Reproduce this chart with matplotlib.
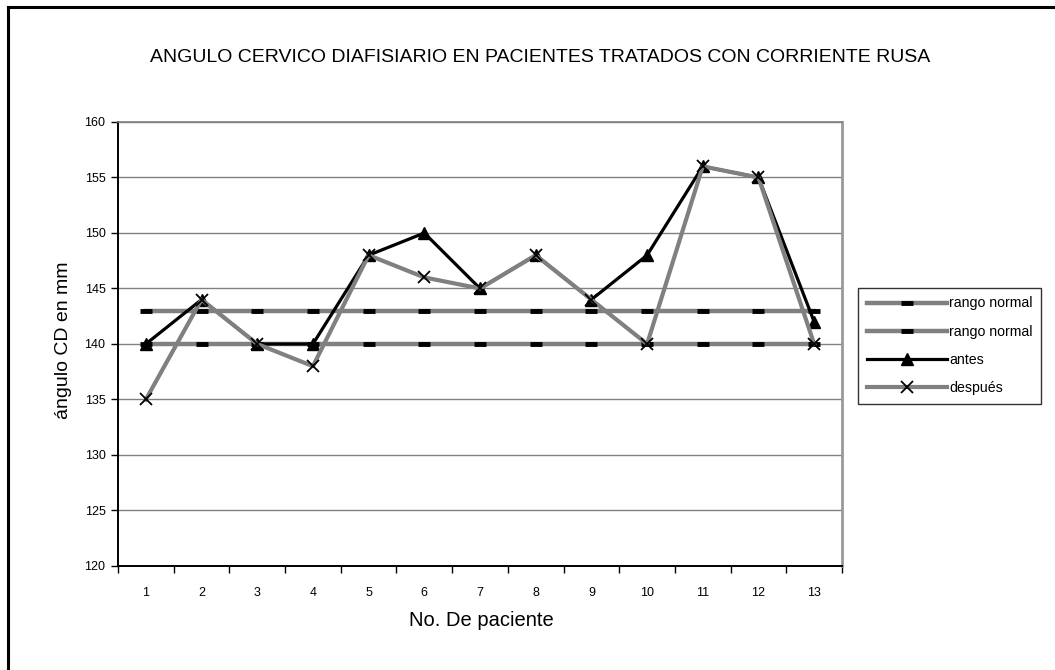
import matplotlib
matplotlib.use("Agg")
import matplotlib.pyplot as plt
from matplotlib.lines import Line2D

plt.rcParams['font.family'] = ['Liberation Sans', 'DejaVu Sans']

# Data
pacientes = [1, 2, 3, 4, 5, 6, 7, 8, 9, 10, 11, 12, 13]
rango_sup = [143] * 13
rango_inf = [140] * 13
antes = [140, 144, 140, 140, 148, 150, 145, 148, 144, 148, 156, 155, 142]
despues = [135, 144, 140, 138, 148, 146, 145, 148, 144, 140, 156, 155, 140]
y_ticks = [120, 125, 130, 135, 140, 145, 150, 155, 160]

titulo = "ANGULO CERVICO DIAFISIARIO EN PACIENTES TRATADOS CON CORRIENTE RUSA"
etiqueta_x = "No. De paciente"
etiqueta_y = "ángulo CD en mm"
nombres = ["rango normal", "rango normal", "antes", "después"]

W, H = 1055, 670
fig = plt.figure(figsize=(W / 100, H / 100), dpi=100)
fig.patch.set_facecolor("white")

# outer frame (top and left edges)
fig.add_artist(Line2D([8 / W, 8 / W], [0, 1 - 7 / H], transform=fig.transFigure,
                      color="black", lw=2.2))
fig.add_artist(Line2D([8 / W, 1], [1 - 7 / H, 1 - 7 / H], transform=fig.transFigure,
                      color="black", lw=2.2))

left, right, top, bottom = 118, 842, 122, 566
ax = fig.add_axes([left / W, 1 - bottom / H, (right - left) / W, (bottom - top) / H])

gray = "#808080"
h1, = ax.plot(pacientes, rango_sup, color=gray, lw=3.2, marker="_", ms=9,
              mec="black", mew=3.5, zorder=3)
h2, = ax.plot(pacientes, rango_inf, color=gray, lw=3.2, marker="_", ms=9,
              mec="black", mew=3.5, zorder=3)
h3, = ax.plot(pacientes, antes, color="black", lw=2.3, marker="^", ms=8.5,
              mfc="black", mec="black", zorder=4)
h4, = ax.plot(pacientes, despues, color=gray, lw=3.0, marker="x", ms=9,
              mec="black", mew=1.3, zorder=5)

ax.set_xlim(0.5, 13.5)
ax.set_ylim(120, 160)
ax.set_yticks(y_ticks)
ax.set_xticks(pacientes)
ax.set_xticks([p - 0.5 for p in pacientes] + [13.5], minor=True)
ax.tick_params(axis="x", which="major", length=0, pad=15, labelsize=9)
ax.tick_params(axis="x", which="minor", length=5, width=1, direction="out", color="black")
ax.tick_params(axis="y", which="major", length=5, width=1, direction="out",
               labelsize=9, pad=4, color="black")
ax.yaxis.grid(True, color=gray, lw=1)
ax.set_axisbelow(True)

for s in ("left", "bottom"):
    ax.spines[s].set_color("black")
    ax.spines[s].set_linewidth(1.4)
ax.spines["top"].set_color(gray)
ax.spines["top"].set_linewidth(1.2)
ax.spines["right"].set_color("#999999")
ax.spines["right"].set_linewidth(2)

fig.text(540 / W, 1 - 57 / H, titulo, ha="center", va="center", fontsize=14)
fig.text(481 / W, 1 - 620 / H, etiqueta_x, ha="center", va="center", fontsize=14.5)
fig.text(63 / W, 1 - 340 / H, etiqueta_y, ha="center", va="center", fontsize=14,
         rotation=90)

leg = fig.legend([h1, h2, h3, h4], nombres, loc="upper left",
                 bbox_to_anchor=(858 / W, 1 - 288 / H), bbox_transform=fig.transFigure,
                 fontsize=10.2, frameon=True, fancybox=False, edgecolor="black",
                 handlelength=5.7, handletextpad=0.15, borderpad=0.6,
                 labelspacing=1.0, borderaxespad=0)
leg.get_frame().set_linewidth(1)

fig.savefig("out.png", dpi=100, facecolor="white")
